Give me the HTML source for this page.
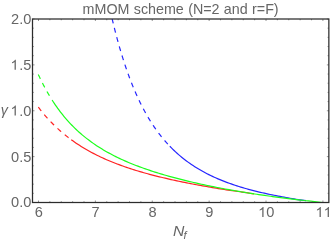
<!DOCTYPE html>
<html><head><meta charset="utf-8">
<style>
html,body{margin:0;padding:0;background:#fff;}
body{width:332px;height:240px;overflow:hidden;position:relative;font-family:"Liberation Sans",sans-serif;}
svg{position:absolute;left:0;top:0;}
svg{will-change:transform;} text{font-family:"Liberation Sans",sans-serif;font-size:14.3px;fill:#666;} .t{font-size:14.6px;}
</style></head><body>
<svg width="332" height="240" viewBox="0 0 332 240">
<rect x="0" y="0" width="332" height="240" fill="#fff"/>
<defs><clipPath id="c"><rect x="32.5" y="19.0" width="296.35" height="183.5"/></clipPath></defs>
<g fill="none" stroke-width="1.2" stroke-linejoin="round" clip-path="url(#c)">
<path d="M38.30,107.13 L38.92,107.94 L39.54,108.74 L40.16,109.54 L40.79,110.34 L41.42,111.13 L42.06,111.92 L42.71,112.71 L43.36,113.49 L44.01,114.27 L44.67,115.04 L45.33,115.81 L46.00,116.57 L46.67,117.34 L47.35,118.09 L48.03,118.84 L48.72,119.59 L49.41,120.34 L50.10,121.08 L50.80,121.81 L51.51,122.54 L52.22,123.27 L52.93,123.99 L53.65,124.71 L54.38,125.42 L55.10,126.13 L55.84,126.83 L56.58,127.53 L57.32,128.22 L58.06,128.91 L58.82,129.59 L59.57,130.27 L60.33,130.94 L61.10,131.61 L61.86,132.27 L62.64,132.93 L63.42,133.59 L64.20,134.23 L64.98,134.88 L65.77,135.51 L66.57,136.15 L67.37,136.77 L68.17,137.40 L68.98,138.01 L69.79,138.63 L70.60,139.23" stroke="#ff2222" stroke-dasharray="4.85 4.72" stroke-dashoffset="0"/>
<path d="M71.20,139.67 L72.82,140.85 L74.46,142.00 L76.12,143.14 L77.79,144.25 L79.47,145.34 L81.16,146.42 L82.87,147.47 L84.58,148.50 L86.31,149.52 L88.06,150.51 L89.81,151.49 L91.57,152.44 L93.34,153.38 L95.13,154.30 L96.92,155.20 L98.72,156.08 L100.53,156.94 L102.35,157.79 L104.17,158.62 L106.00,159.43 L107.84,160.23 L109.69,161.01 L111.54,161.77 L113.40,162.52 L115.27,163.26 L117.14,163.98 L119.02,164.68 L120.90,165.38 L122.79,166.05 L124.68,166.72 L126.57,167.37 L128.47,168.01 L130.38,168.64 L132.29,169.25 L134.20,169.86 L136.11,170.45 L138.03,171.03 L139.96,171.60 L141.88,172.17 L143.81,172.72 L145.74,173.26 L147.67,173.79 L149.61,174.31 L151.55,174.83 L153.49,175.33 L155.43,175.83 L157.37,176.32 L159.32,176.80 L161.27,177.27 L163.22,177.74 L165.17,178.20 L167.12,178.65 L169.08,179.10 L171.04,179.54 L172.99,179.97 L174.95,180.39 L176.91,180.81 L178.88,181.23 L180.84,181.64 L182.80,182.04 L184.77,182.44 L186.73,182.83 L188.70,183.22 L190.67,183.60 L192.64,183.98 L194.61,184.36 L196.58,184.73 L198.55,185.09 L200.52,185.45 L202.50,185.81 L204.47,186.17 L206.44,186.51 L208.42,186.86 L210.39,187.20 L212.37,187.54 L214.35,187.88 L216.32,188.21 L218.30,188.54 L220.28,188.86 L222.26,189.19 L224.24,189.51 L226.22,189.82 L228.20,190.13 L230.19,190.39 L232.18,190.66 L234.16,190.94 L236.15,191.21 L238.13,191.50 L240.12,191.78 L242.10,192.07 L244.09,192.36 L246.07,192.65 L248.05,192.94 L250.04,193.24 L252.02,193.55 L254.00,193.85" stroke="#ff2222"/>
<path d="M112.11,18.58 L112.34,19.56 L112.57,20.54 L112.80,21.52 L113.04,22.50 L113.27,23.47 L113.51,24.45 L113.75,25.43 L113.99,26.41 L114.23,27.38 L114.47,28.36 L114.72,29.34 L114.96,30.31 L115.21,31.29 L115.46,32.26 L115.71,33.23 L115.97,34.21 L116.22,35.18 L116.48,36.15 L116.74,37.13 L117.00,38.10 L117.26,39.07 L117.52,40.04 L117.79,41.01 L118.05,41.98 L118.32,42.95 L118.59,43.92 L118.87,44.89 L119.14,45.86 L119.42,46.83 L119.69,47.79 L119.97,48.76 L120.26,49.72 L120.54,50.69 L120.83,51.65 L121.12,52.62 L121.41,53.58 L121.70,54.54 L121.99,55.51 L122.29,56.47 L122.59,57.43 L122.89,58.39 L123.19,59.35 L123.50,60.31 L123.81,61.26 L124.12,62.22 L124.43,63.18 L124.74,64.13 L125.06,65.09 L125.38,66.04 L125.70,67.00 L126.03,67.95 L126.35,68.90 L126.68,69.85 L127.01,70.80 L127.35,71.75 L127.69,72.70 L128.03,73.64 L128.37,74.59 L128.71,75.54 L129.06,76.48 L129.41,77.42 L129.77,78.36 L130.12,79.31 L130.48,80.25 L130.84,81.18 L131.21,82.12 L131.58,83.06 L131.95,83.99 L132.32,84.93 L132.70,85.86 L133.08,86.79 L133.46,87.72 L133.85,88.65 L134.24,89.58 L134.63,90.50 L135.03,91.43 L135.43,92.35 L135.83,93.27 L136.24,94.19 L136.65,95.11 L137.07,96.03 L137.48,96.94 L137.90,97.86 L138.33,98.77 L138.76,99.68 L139.19,100.59 L139.63,101.50 L140.07,102.40 L140.51,103.30 L140.96,104.20 L141.41,105.10 L141.86,106.00 L142.32,106.90 L142.79,107.79 L143.26,108.68 L143.73,109.57 L144.20,110.45 L144.68,111.34 L145.17,112.22 L145.66,113.10 L146.15,113.98 L146.65,114.85 L147.15,115.72 L147.66,116.59 L148.17,117.46 L148.69,118.32 L149.21,119.18 L149.73,120.04 L150.26,120.90 L150.80,121.75 L151.34,122.60 L151.88,123.44 L152.43,124.29 L152.98,125.13 L153.54,125.96 L154.11,126.80 L154.68,127.63 L155.25,128.45 L155.83,129.28 L156.41,130.09 L157.00,130.91 L157.60,131.72 L158.20,132.53 L158.80,133.33 L159.41,134.13 L160.03,134.93 L160.65,135.72 L161.27,136.51 L161.90,137.29 L162.54,138.07 L163.18,138.85 L163.83,139.62 L164.48,140.38 L165.14,141.14 L165.80,141.90 L166.47,142.65 L167.15,143.40 L167.83,144.14 L168.51,144.88 L169.20,145.61" stroke="#2626ff" stroke-dasharray="4.85 4.72" stroke-dashoffset="0"/>
<path d="M169.80,146.24 L171.21,147.69 L172.64,149.11 L174.10,150.52 L175.57,151.90 L177.06,153.26 L178.58,154.60 L180.11,155.91 L181.67,157.20 L183.24,158.47 L184.84,159.71 L186.45,160.93 L188.08,162.12 L189.72,163.29 L191.39,164.44 L193.07,165.56 L194.76,166.66 L196.47,167.74 L198.20,168.79 L199.94,169.81 L201.69,170.82 L203.46,171.80 L205.24,172.75 L207.03,173.69 L208.83,174.60 L210.65,175.49 L212.47,176.36 L214.31,177.20 L216.15,178.03 L218.00,178.84 L219.87,179.62 L221.74,180.39 L223.61,181.13 L225.50,181.86 L227.39,182.57 L229.29,183.27 L231.19,183.94 L233.10,184.60 L235.02,185.24 L236.94,185.87 L238.86,186.48 L240.79,187.08 L242.73,187.66 L244.67,188.23 L246.61,188.78 L248.56,189.32 L250.51,189.85 L252.46,190.36 L254.42,190.86 L256.38,191.35 L258.34,191.83 L260.31,192.30 L262.28,192.76 L264.25,193.20 L266.22,193.64 L268.20,194.06 L270.17,194.48 L272.15,194.88 L274.13,195.28 L276.12,195.66 L278.10,196.04 L280.09,196.41 L282.08,196.77 L284.07,197.12 L286.06,197.47 L288.05,197.81 L290.03,198.22 L292.01,198.60 L294.00,198.96 L295.99,199.30 L297.99,199.61 L299.99,199.91 L301.99,200.19 L303.99,200.44 L306.00,200.67" stroke="#2626ff"/>
<path d="M38.30,74.48 L38.73,75.42 L39.17,76.35 L39.61,77.29 L40.06,78.22 L40.51,79.16 L40.96,80.09 L41.42,81.02 L41.88,81.94 L42.35,82.87 L42.82,83.79 L43.29,84.71 L43.77,85.63 L44.25,86.54 L44.74,87.45 L45.23,88.36 L45.73,89.27 L46.23,90.18 L46.74,91.08 L47.25,91.98 L47.76,92.88 L48.28,93.77 L48.80,94.67 L49.33,95.56 L49.87,96.44 L50.41,97.33 L50.95,98.21 L51.50,99.08" stroke="#1cff1c" stroke-dasharray="4.85 4.72" stroke-dashoffset="0"/>
<path d="M52.10,100.03 L53.19,101.72 L54.30,103.39 L55.42,105.05 L56.57,106.70 L57.74,108.33 L58.92,109.95 L60.13,111.55 L61.36,113.14 L62.60,114.71 L63.87,116.27 L65.16,117.81 L66.47,119.33 L67.80,120.84 L69.14,122.32 L70.51,123.79 L71.90,125.24 L73.31,126.67 L74.74,128.08 L76.18,129.47 L77.65,130.84 L79.14,132.19 L80.64,133.52 L82.16,134.83 L83.70,136.11 L85.26,137.38 L86.84,138.62 L88.43,139.84 L90.03,141.05 L91.66,142.23 L93.30,143.38 L94.95,144.52 L96.62,145.64 L98.30,146.74 L99.99,147.81 L101.70,148.86 L103.42,149.90 L105.15,150.91 L106.89,151.91 L108.65,152.88 L110.41,153.84 L112.19,154.78 L113.97,155.70 L115.76,156.60 L117.57,157.48 L119.38,158.35 L121.19,159.20 L123.02,160.03 L124.85,160.85 L126.69,161.65 L128.54,162.44 L130.39,163.21 L132.25,163.97 L134.11,164.71 L135.98,165.44 L137.86,166.16 L139.74,166.86 L141.62,167.55 L143.51,168.23 L145.41,168.89 L147.30,169.55 L149.20,170.19 L151.11,170.83 L153.02,171.45 L154.93,172.06 L156.84,172.66 L158.76,173.25 L160.68,173.83 L162.60,174.41 L164.53,174.97 L166.46,175.53 L168.39,176.07 L170.32,176.61 L172.26,177.14 L174.20,177.67 L176.14,178.18 L178.08,178.69 L180.02,179.19 L181.97,179.68 L183.91,180.17 L185.86,180.65 L187.81,181.12 L189.76,181.58 L191.72,182.04 L193.67,182.50 L195.63,182.94 L197.59,183.39 L199.55,183.82 L201.51,184.25 L203.47,184.67 L205.43,185.09 L207.40,185.51 L209.36,185.91 L211.33,186.32 L213.29,186.71 L215.26,187.10 L217.23,187.49 L219.20,187.87 L221.17,188.25 L223.15,188.62 L225.12,188.99 L227.09,189.35 L229.07,189.71 L231.04,190.06 L233.02,190.41 L235.00,190.76 L236.97,191.10 L238.95,191.43 L240.93,191.77 L242.91,192.09 L244.89,192.42 L246.87,192.74 L248.86,193.05 L250.84,193.36 L252.82,193.67 L254.81,193.97 L256.79,194.27 L258.77,194.57 L260.76,194.86 L262.75,195.15 L264.73,195.44 L266.72,195.72 L268.71,196.00 L270.70,196.27 L272.68,196.54 L274.67,196.81 L276.66,197.08 L278.65,197.34 L280.64,197.60 L282.63,197.85 L284.62,198.11 L286.61,198.36 L288.61,198.61 L290.60,198.85 L292.59,199.09 L294.58,199.33 L296.58,199.57 L298.57,199.81 L300.56,200.04 L302.55,200.27 L304.55,200.50 L306.54,200.73 L308.54,200.96 L310.53,201.18 L312.53,201.40 L314.52,201.62 L316.52,201.84 L318.51,202.06 L320.50,202.28 L322.50,202.50" stroke="#1cff1c"/>
</g>
<path d="M38.50,202.5 v-2.0 M38.50,19.0 v2.0 M49.88,202.5 v-1.3 M49.88,19.0 v1.3 M61.25,202.5 v-1.3 M61.25,19.0 v1.3 M72.63,202.5 v-1.3 M72.63,19.0 v1.3 M84.00,202.5 v-1.3 M84.00,19.0 v1.3 M95.38,202.5 v-2.0 M95.38,19.0 v2.0 M106.76,202.5 v-1.3 M106.76,19.0 v1.3 M118.13,202.5 v-1.3 M118.13,19.0 v1.3 M129.51,202.5 v-1.3 M129.51,19.0 v1.3 M140.88,202.5 v-1.3 M140.88,19.0 v1.3 M152.26,202.5 v-2.0 M152.26,19.0 v2.0 M163.64,202.5 v-1.3 M163.64,19.0 v1.3 M175.01,202.5 v-1.3 M175.01,19.0 v1.3 M186.39,202.5 v-1.3 M186.39,19.0 v1.3 M197.76,202.5 v-1.3 M197.76,19.0 v1.3 M209.14,202.5 v-2.0 M209.14,19.0 v2.0 M220.52,202.5 v-1.3 M220.52,19.0 v1.3 M231.89,202.5 v-1.3 M231.89,19.0 v1.3 M243.27,202.5 v-1.3 M243.27,19.0 v1.3 M254.64,202.5 v-1.3 M254.64,19.0 v1.3 M266.02,202.5 v-2.0 M266.02,19.0 v2.0 M277.40,202.5 v-1.3 M277.40,19.0 v1.3 M288.77,202.5 v-1.3 M288.77,19.0 v1.3 M300.15,202.5 v-1.3 M300.15,19.0 v1.3 M311.52,202.5 v-1.3 M311.52,19.0 v1.3 M322.90,202.5 v-2.0 M322.90,19.0 v2.0 M32.5,202.50 h2.0 M328.85,202.50 h-2.0 M32.5,193.32 h1.3 M328.85,193.32 h-1.3 M32.5,184.15 h1.3 M328.85,184.15 h-1.3 M32.5,174.97 h1.3 M328.85,174.97 h-1.3 M32.5,165.80 h1.3 M328.85,165.80 h-1.3 M32.5,156.62 h2.0 M328.85,156.62 h-2.0 M32.5,147.45 h1.3 M328.85,147.45 h-1.3 M32.5,138.27 h1.3 M328.85,138.27 h-1.3 M32.5,129.10 h1.3 M328.85,129.10 h-1.3 M32.5,119.92 h1.3 M328.85,119.92 h-1.3 M32.5,110.75 h2.0 M328.85,110.75 h-2.0 M32.5,101.57 h1.3 M328.85,101.57 h-1.3 M32.5,92.40 h1.3 M328.85,92.40 h-1.3 M32.5,83.22 h1.3 M328.85,83.22 h-1.3 M32.5,74.05 h1.3 M328.85,74.05 h-1.3 M32.5,64.88 h2.0 M328.85,64.88 h-2.0 M32.5,55.70 h1.3 M328.85,55.70 h-1.3 M32.5,46.52 h1.3 M328.85,46.52 h-1.3 M32.5,37.35 h1.3 M328.85,37.35 h-1.3 M32.5,28.17 h1.3 M328.85,28.17 h-1.3 M32.5,19.00 h2.0 M328.85,19.00 h-2.0" stroke="#8a8a8a" stroke-width="0.9" fill="none"/>
<rect x="32.5" y="19.0" width="296.35" height="183.5" fill="none" stroke="#2c2c2c" stroke-width="1.25"/>
<text x="82.6" y="13.5" style="word-spacing:0.35px">mMOM scheme (N=2 and r=F)</text>
<text class="t" x="31.4" y="24.0" text-anchor="end">2.0</text>
<text class="t" x="31.4" y="69.8" text-anchor="end">.5</text>
<path d="M763,0H583V1147Q518,1085 412.5,1023Q307,961 223,930V1104Q374,1175 487,1276Q600,1377 647,1472H763Z" fill="#666" transform="translate(10.41,69.8) scale(0.00713,-0.00682)"/>
<text class="t" x="31.4" y="115.5" text-anchor="end">.0</text>
<path d="M763,0H583V1147Q518,1085 412.5,1023Q307,961 223,930V1104Q374,1175 487,1276Q600,1377 647,1472H763Z" fill="#666" transform="translate(10.41,115.5) scale(0.00713,-0.00682)"/>
<text class="t" x="31.4" y="161.6" text-anchor="end">0.5</text>
<text class="t" x="31.4" y="207.4" text-anchor="end">0.0</text>
<text class="t" x="38.70" y="217" text-anchor="middle">6</text>
<text class="t" x="95.58" y="217" text-anchor="middle">7</text>
<text class="t" x="152.46" y="217" text-anchor="middle">8</text>
<text class="t" x="209.34" y="217" text-anchor="middle">9</text>
<path d="M763,0H583V1147Q518,1085 412.5,1023Q307,961 223,930V1104Q374,1175 487,1276Q600,1377 647,1472H763Z" fill="#666" transform="translate(258.10,217) scale(0.00713,-0.00682)"/>
<text class="t" x="266.22" y="217">0</text>
<path d="M763,0H583V1147Q518,1085 412.5,1023Q307,961 223,930V1104Q374,1175 487,1276Q600,1377 647,1472H763Z" fill="#666" transform="translate(315.38,217) scale(0.00713,-0.00682)"/>
<path d="M763,0H583V1147Q518,1085 412.5,1023Q307,961 223,930V1104Q374,1175 487,1276Q600,1377 647,1472H763Z" fill="#666" transform="translate(323.50,217) scale(0.00713,-0.00682)"/>
<text x="0.8" y="115" font-style="italic">γ</text>
<text transform="translate(172.9,235.6) scale(1.1,1)" font-style="italic">N</text>
<text x="183.6" y="238.8" font-style="italic" style="font-size:11px">f</text>
</svg>
</body></html>
